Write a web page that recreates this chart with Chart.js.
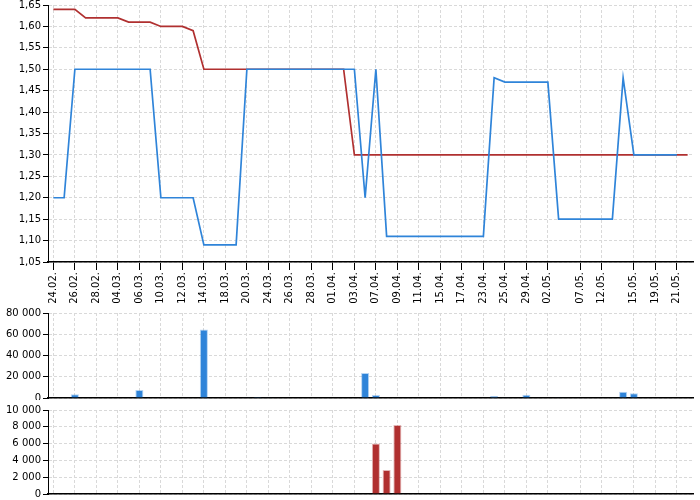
<!DOCTYPE html>
<html>
<head>
<meta charset="utf-8">
<script src="https://cdn.jsdelivr.net/npm/chart.js@4.4.2/dist/chart.umd.min.js"></script>
<style>
  body { margin: 0; background: #fff; }
  .panel { position: absolute; left: 0; width: 700px; }
  #p-price { top: 0; height: 305px; }
  #p-vol { top: 305px; height: 95px; }
  #p-vol2 { top: 400px; height: 100px; }
</style>
</head>
<body>
<div class="panel" id="p-price"><canvas id="chart-price"></canvas></div>
<div class="panel" id="p-vol"><canvas id="chart-vol"></canvas></div>
<div class="panel" id="p-vol2"><canvas id="chart-vol2"></canvas></div>
<script>
const dates = [
  '24.02.', '25.02.', '26.02.', '27.02.', '28.02.', '03.03.', '04.03.', '05.03.', '06.03.', '07.03.',
  '10.03.', '11.03.', '12.03.', '13.03.', '14.03.', '17.03.', '18.03.', '19.03.', '20.03.', '21.03.',
  '24.03.', '25.03.', '26.03.', '27.03.', '28.03.', '31.03.', '01.04.', '02.04.', '03.04.', '04.04.',
  '07.04.', '08.04.', '09.04.', '10.04.', '11.04.', '14.04.', '15.04.', '16.04.', '17.04.', '22.04.',
  '23.04.', '24.04.', '25.04.', '28.04.', '29.04.', '30.04.', '02.05.', '05.05.', '06.05.', '07.05.',
  '09.05.', '12.05.', '13.05.', '14.05.', '15.05.', '16.05.', '19.05.', '20.05.', '21.05.', '22.05.'
];

// labels that get a tick and a grid line
const shownDates = [
  '24.02.', '26.02.', '28.02.', '04.03.', '06.03.', '10.03.', '12.03.', '14.03.', '18.03.', '20.03.',
  '24.03.', '26.03.', '28.03.', '01.04.', '03.04.', '07.04.', '09.04.', '11.04.', '15.04.', '17.04.',
  '23.04.', '25.04.', '29.04.', '02.05.', '07.05.', '12.05.', '15.05.', '19.05.', '21.05.'
];

const priceRed = [
  1.64, 1.64, 1.64, 1.62, 1.62, 1.62, 1.62, 1.61, 1.61, 1.61,
  1.60, 1.60, 1.60, 1.59, 1.50, 1.50, 1.50, 1.50, 1.50, 1.50,
  1.50, 1.50, 1.50, 1.50, 1.50, 1.50, 1.50, 1.50, 1.30, 1.30,
  1.30, 1.30, 1.30, 1.30, 1.30, 1.30, 1.30, 1.30, 1.30, 1.30,
  1.30, 1.30, 1.30, 1.30, 1.30, 1.30, 1.30, 1.30, 1.30, 1.30,
  1.30, 1.30, 1.30, 1.30, 1.30, 1.30, 1.30, 1.30, 1.30, 1.30
];

const priceBlue = [
  1.20, 1.20, 1.50, 1.50, 1.50, 1.50, 1.50, 1.50, 1.50, 1.50,
  1.20, 1.20, 1.20, 1.20, 1.09, 1.09, 1.09, 1.09, 1.50, 1.50,
  1.50, 1.50, 1.50, 1.50, 1.50, 1.50, 1.50, 1.50, 1.50, 1.20,
  1.50, 1.11, 1.11, 1.11, 1.11, 1.11, 1.11, 1.11, 1.11, 1.11,
  1.11, 1.48, 1.47, 1.47, 1.47, 1.47, 1.47, 1.15, 1.15, 1.15,
  1.15, 1.15, 1.15, 1.48, 1.30, 1.30, 1.30, 1.30, 1.30, null
];

const volBlue = [
  0, 0, 3500, 0, 0, 0, 500, 0, 7500, 0,
  0, 0, 0, 0, 64500, 0, 0, 0, 300, 1000,
  300, 0, 0, 0, 0, 0, 0, 0, 0, 23500,
  2800, 500, 0, 0, 0, 0, 0, 0, 0, 0,
  0, 2000, 300, 0, 3000, 0, 0, 300, 0, 0,
  0, 0, 0, 6000, 4500, 0, 0, 0, 0, 0
];

const volRed = [
  0, 0, 0, 0, 0, 0, 0, 0, 0, 0,
  0, 0, 0, 0, 0, 0, 0, 0, 0, 0,
  0, 0, 0, 0, 0, 0, 0, 0, 0, 0,
  6000, 2850, 8200, 0, 0, 0, 0, 0, 0, 0,
  0, 0, 0, 0, 0, 0, 0, 0, 0, 0,
  0, 0, 0, 0, 0, 0, 0, 0, 0, 0
];

const BLUE = '#2f84d9';
const RED = '#b03030';
const GRID = '#d9d9d9';

Chart.defaults.font.family = 'DejaVu Sans';
Chart.defaults.font.size = 10;
Chart.defaults.color = '#000';
Chart.defaults.animation = false;

function thousands(v) {
  return String(v).replace(/\B(?=(\d{3})+(?!\d))/g, ' ');
}

function xAxis(withLabels, height) {
  return {
    type: 'category',
    offset: true,
    grid: {
      offset: false,
      color: GRID,
      tickColor: '#000',
      tickLength: withLabels ? 8 : 0,
      drawTicks: withLabels
    },
    border: { display: true, color: '#000', width: 1.5, dash: [3, 2] },
    ticks: {
      display: withLabels,
      autoSkip: false,
      maxRotation: 90,
      minRotation: 90,
      padding: 2,
      font: { size: 10 },
      callback: function (value) {
        const lbl = this.getLabelForValue(value);
        return shownDates.includes(lbl) ? lbl : null;
      }
    },
    afterFit: s => { s.height = height; s.paddingLeft = 0; s.paddingRight = 0; }
  };
}

function yAxis(opts) {
  return Object.assign({
    grid: { color: GRID, tickColor: '#000', tickLength: 5 },
    border: { display: true, color: '#000', width: 1, dash: [3, 2] },
    afterFit: s => { s.width = 48; s.paddingTop = 0; s.paddingBottom = 0; }
  }, opts);
}

function baseOptions(scales, padTop, padBottom) {
  return {
    responsive: true,
    maintainAspectRatio: false,
    layout: { padding: { top: padTop, right: 7, left: 0, bottom: padBottom } },
    plugins: { legend: { display: false }, tooltip: { enabled: false } },
    scales
  };
}

new Chart(document.getElementById('chart-price'), {
  type: 'line',
  data: {
    labels: dates,
    datasets: [
      { data: priceBlue, borderColor: BLUE, borderWidth: 1.7, pointRadius: 0, tension: 0, spanGaps: false },
      { data: priceRed, borderColor: RED, borderWidth: 1.7, pointRadius: 0, tension: 0 }
    ]
  },
  options: baseOptions({
    x: xAxis(true, 43),
    y: yAxis({ min: 1.05, max: 1.65, ticks: { stepSize: 0.05, padding: 2,
      callback: v => v.toFixed(2).replace('.', ',') } })
  }, 5, 0)
});

new Chart(document.getElementById('chart-vol'), {
  type: 'bar',
  data: {
    labels: dates,
    datasets: [{
      data: volBlue, backgroundColor: BLUE, borderColor: 'rgba(47,132,217,0.35)', borderWidth: 1,
      barPercentage: 0.75, categoryPercentage: 1
    }]
  },
  options: baseOptions({
    x: xAxis(false, 1),
    y: yAxis({ min: 0, max: 80000, ticks: { stepSize: 20000, padding: 2, callback: thousands } })
  }, 8, 1)
});

new Chart(document.getElementById('chart-vol2'), {
  type: 'bar',
  data: {
    labels: dates,
    datasets: [{
      data: volRed, backgroundColor: RED, borderColor: 'rgba(176,48,48,0.35)', borderWidth: 1,
      barPercentage: 0.75, categoryPercentage: 1
    }]
  },
  options: baseOptions({
    x: xAxis(false, 1),
    y: yAxis({ min: 0, max: 10000, ticks: { stepSize: 2000, padding: 2, callback: thousands } })
  }, 10, 5)
});
</script>
</body>
</html>
